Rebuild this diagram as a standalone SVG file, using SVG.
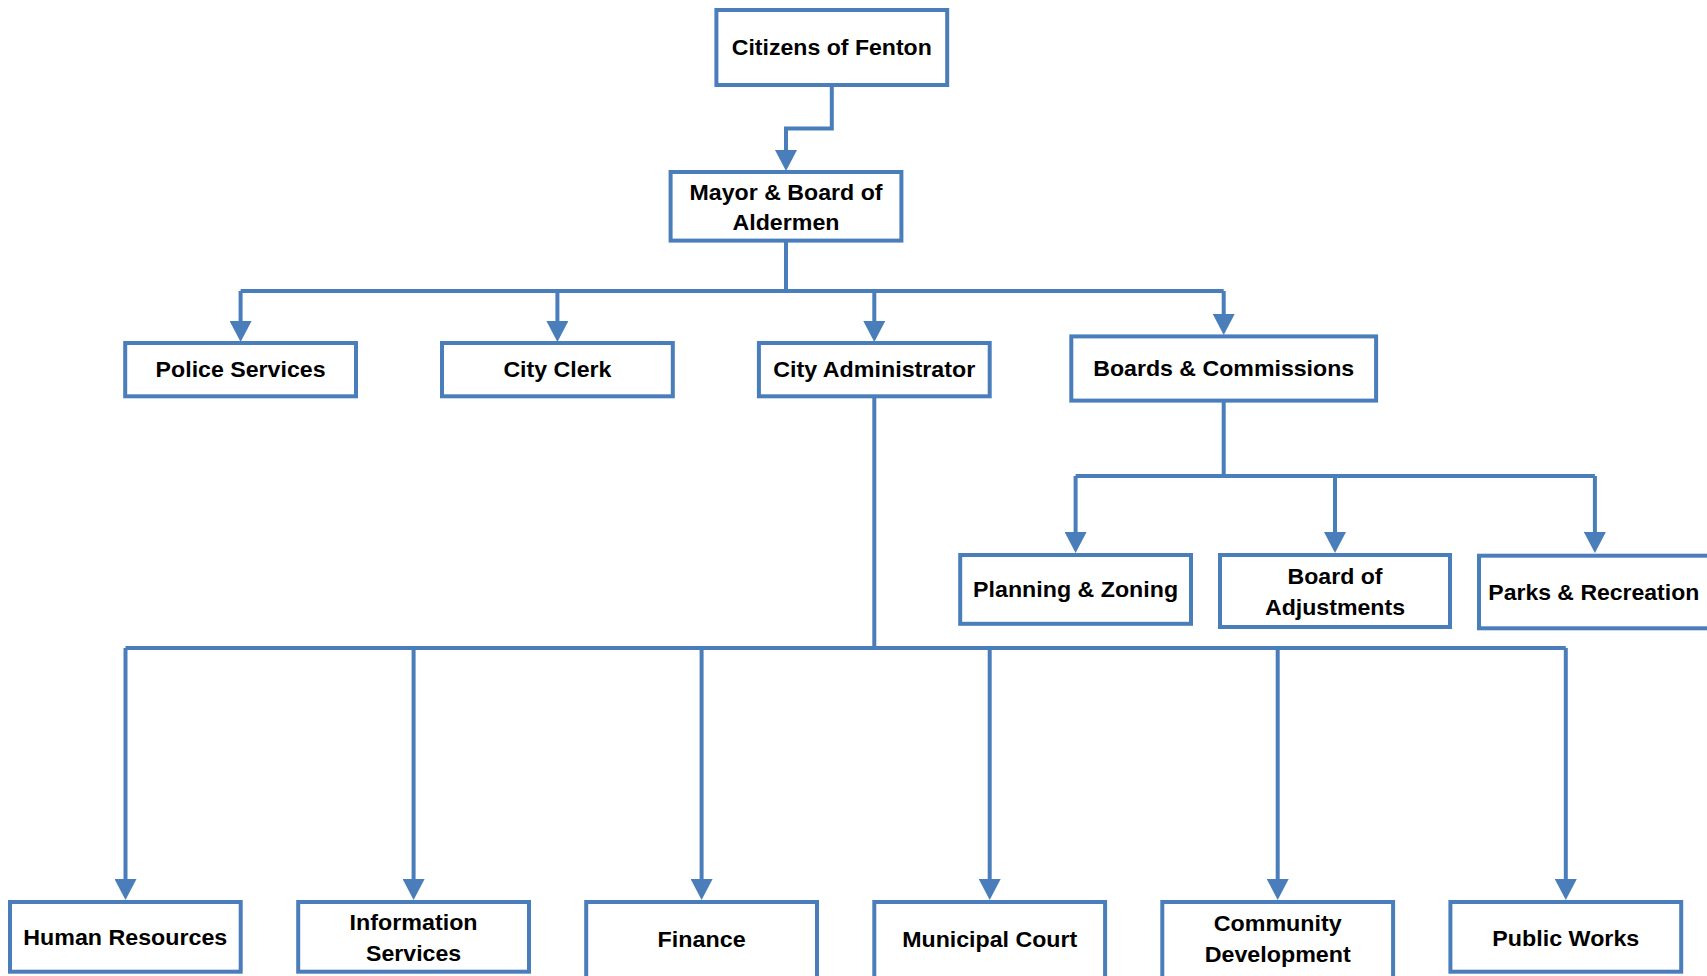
<svg xmlns="http://www.w3.org/2000/svg" width="1707" height="976" viewBox="0 0 1707 976">
<style>
.box{fill:#fff;stroke:#4A7EBB;stroke-width:4}
.con{fill:none;stroke:#4A7EBB;stroke-width:4}
.t{font-family:"Liberation Sans",Arial,sans-serif;font-weight:bold;font-size:22.5px;fill:#000;text-anchor:middle}
</style>
<defs>
<marker id="arr" markerUnits="userSpaceOnUse" markerWidth="22" markerHeight="22" refX="6" refY="11" orient="auto">
<path d="M0,0 L21,11 L0,22 z" fill="#4A7EBB"/>
</marker>
</defs>
<rect width="1707" height="976" fill="#fff"/>
<g id="connectors">
<path class="con" d="M831.8,85 V128.5 H786 V156" marker-end="url(#arr)"/>
<path class="con" d="M786,240.6 V291"/>
<path class="con" d="M240.6,291 H1223.7"/>
<path class="con" d="M240.6,291 V327" marker-end="url(#arr)"/>
<path class="con" d="M557.4,291 V327" marker-end="url(#arr)"/>
<path class="con" d="M874.3,291 V327" marker-end="url(#arr)"/>
<path class="con" d="M1223.7,291 V320" marker-end="url(#arr)"/>
<path class="con" d="M1223.7,400.6 V476"/>
<path class="con" d="M1075.6,476 H1594.9"/>
<path class="con" d="M1075.6,476 V538" marker-end="url(#arr)"/>
<path class="con" d="M1335,476 V538" marker-end="url(#arr)"/>
<path class="con" d="M1594.9,476 V538" marker-end="url(#arr)"/>
<path class="con" d="M874.3,396 V648"/>
<path class="con" d="M125.5,648 H1565.8"/>
<path class="con" d="M125.5,648 V885" marker-end="url(#arr)"/>
<path class="con" d="M413.6,648 V885" marker-end="url(#arr)"/>
<path class="con" d="M701.6,648 V885" marker-end="url(#arr)"/>
<path class="con" d="M989.7,648 V885" marker-end="url(#arr)"/>
<path class="con" d="M1277.7,648 V885" marker-end="url(#arr)"/>
<path class="con" d="M1565.8,648 V885" marker-end="url(#arr)"/>
</g>
<g id="citizens"><rect class="box" x="716.4" y="10" width="230.8" height="75"/><text class="t" x="831.8" y="54.8" textLength="200" lengthAdjust="spacingAndGlyphs">Citizens of Fenton</text></g>
<g id="mayor"><rect class="box" x="670.6" y="172" width="230.8" height="68.6"/><text class="t" x="786" y="199.5" textLength="193" lengthAdjust="spacingAndGlyphs">Mayor &amp; Board of</text><text class="t" x="786" y="230" textLength="107" lengthAdjust="spacingAndGlyphs">Aldermen</text></g>
<g id="police"><rect class="box" x="125.2" y="343" width="230.8" height="53.3"/><text class="t" x="240.6" y="377" textLength="170" lengthAdjust="spacingAndGlyphs">Police Services</text></g>
<g id="clerk"><rect class="box" x="442" y="343" width="230.8" height="53.3"/><text class="t" x="557.4" y="377" textLength="108" lengthAdjust="spacingAndGlyphs">City Clerk</text></g>
<g id="admin"><rect class="box" x="758.9" y="343" width="230.8" height="53.3"/><text class="t" x="874.3" y="377" textLength="202" lengthAdjust="spacingAndGlyphs">City Administrator</text></g>
<g id="boards"><rect class="box" x="1071.3" y="336.4" width="304.8" height="64.2"/><text class="t" x="1223.7" y="376" textLength="261" lengthAdjust="spacingAndGlyphs">Boards &amp; Commissions</text></g>
<g id="planning"><rect class="box" x="960.2" y="555" width="230.8" height="68.8"/><text class="t" x="1075.6" y="597" textLength="205" lengthAdjust="spacingAndGlyphs">Planning &amp; Zoning</text></g>
<g id="adjustments"><rect class="box" x="1220" y="555" width="230" height="72"/><text class="t" x="1335" y="584" textLength="95" lengthAdjust="spacingAndGlyphs">Board of</text><text class="t" x="1335" y="614.5" textLength="140" lengthAdjust="spacingAndGlyphs">Adjustments</text></g>
<g id="parks"><rect class="box" x="1479" y="555.7" width="231" height="72.6"/><text class="t" x="1488.3" y="600" style="text-anchor:start" textLength="211" lengthAdjust="spacingAndGlyphs">Parks &amp; Recreation</text></g>
<g id="hr"><rect class="box" x="10" y="902" width="230.7" height="69.7"/><text class="t" x="125.3" y="944.5" textLength="204" lengthAdjust="spacingAndGlyphs">Human Resources</text></g>
<g id="info"><rect class="box" x="298.2" y="902" width="230.8" height="69.7"/><text class="t" x="413.6" y="930" textLength="128" lengthAdjust="spacingAndGlyphs">Information</text><text class="t" x="413.6" y="960.5" textLength="95" lengthAdjust="spacingAndGlyphs">Services</text></g>
<g id="finance"><rect class="box" x="586.2" y="902" width="230.8" height="80"/><text class="t" x="701.6" y="946.5" textLength="88" lengthAdjust="spacingAndGlyphs">Finance</text></g>
<g id="court"><rect class="box" x="874.3" y="902" width="230.8" height="80"/><text class="t" x="989.7" y="946.5" textLength="175" lengthAdjust="spacingAndGlyphs">Municipal Court</text></g>
<g id="community"><rect class="box" x="1162.3" y="902" width="230.8" height="80"/><text class="t" x="1277.7" y="931" textLength="128" lengthAdjust="spacingAndGlyphs">Community</text><text class="t" x="1277.7" y="961.5" textLength="146" lengthAdjust="spacingAndGlyphs">Development</text></g>
<g id="publicworks"><rect class="box" x="1450.4" y="902" width="230.8" height="69.7"/><text class="t" x="1565.8" y="945.5" textLength="147" lengthAdjust="spacingAndGlyphs">Public Works</text></g>
</svg>
